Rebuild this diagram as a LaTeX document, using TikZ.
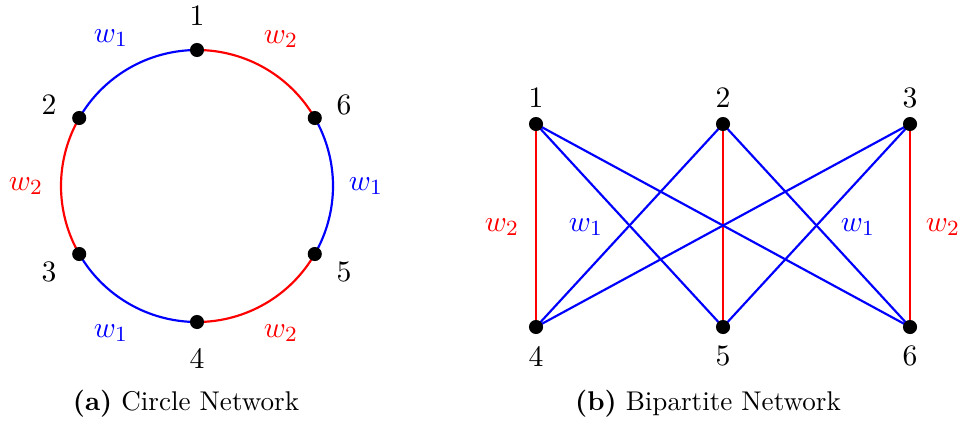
\documentclass[tikz,border=0pt]{standalone}
\usetikzlibrary{calc,backgrounds}
\definecolor{wblue}{RGB}{0,0,255}
\definecolor{wred}{RGB}{255,0,0}
\begin{document}
\begin{tikzpicture}[x=0.369pt,y=0.369pt,
  vtx/.style={circle,fill=black,inner sep=0pt,minimum size=5.2pt},
  lbl/.style={inner sep=0pt,font=\fontsize{10.95}{13}\selectfont},
  bl/.style={wblue,line width=0.8pt},
  rd/.style={wred,line width=0.8pt},
  wb/.style={lbl,text=wblue},
  wr/.style={lbl,text=wred},
  captext/.style={inner sep=0pt,font=\normalsize}]
\useasboundingbox (0,0) rectangle (963,-421);
% ---- circle network
\coordinate (c) at (197,-186);
\foreach \n/\a in {1/90,2/150,3/210,4/270,5/330,6/30}
  \node[vtx] (a\n) at ($(c)+(\a:136)$) {};
\begin{scope}[on background layer]
\draw[bl] (a1.center) arc[start angle=90,end angle=150,radius=136];
\draw[rd] (a2.center) arc[start angle=150,end angle=210,radius=136];
\draw[bl] (a3.center) arc[start angle=210,end angle=270,radius=136];
\draw[rd] (a4.center) arc[start angle=270,end angle=330,radius=136];
\draw[bl] (a5.center) arc[start angle=330,end angle=390,radius=136];
\draw[rd] (a6.center) arc[start angle=30,end angle=90,radius=136];
\end{scope}
\node[lbl] (la1) at (197,-16) {1};
\node[lbl] (la2) at (49,-105) {2};
\node[lbl] (la6) at (344,-105) {6};
\node[lbl] (la3) at (49,-272) {3};
\node[lbl] (la5) at (344,-272) {5};
\node[lbl] (la4) at (197,-358) {4};
\node[wb] (wa1) at (111,-38) {$w_1$};
\node[wr] (wa2) at (281,-39) {$w_2$};
\node[wr] (wa3) at (26,-186) {$w_2$};
\node[wb] (wa4) at (366,-186) {$w_1$};
\node[wb] (wa5) at (111,-333) {$w_1$};
\node[wr] (wa6) at (281,-333) {$w_2$};
\node[captext] (capa) at (186,-404) {\textbf{(a)} Circle Network};
% ---- bipartite network
\node[vtx] (b1) at (536,-124) {};
\node[vtx] (b2) at (723,-124) {};
\node[vtx] (b3) at (910,-124) {};
\node[vtx] (b4) at (536,-327) {};
\node[vtx] (b5) at (723,-327) {};
\node[vtx] (b6) at (910,-327) {};
\begin{scope}[on background layer]
\draw[rd] (b1.center) -- (b4.center);
\draw[rd] (b2.center) -- (b5.center);
\draw[rd] (b3.center) -- (b6.center);
\draw[bl] (b1.center) -- (b5.center);
\draw[bl] (b1.center) -- (b6.center);
\draw[bl] (b2.center) -- (b4.center);
\draw[bl] (b2.center) -- (b6.center);
\draw[bl] (b3.center) -- (b4.center);
\draw[bl] (b3.center) -- (b5.center);
\end{scope}
\node[lbl] (lb1) at (536,-98) {1};
\node[lbl] (lb2) at (723,-98) {2};
\node[lbl] (lb3) at (910,-98) {3};
\node[lbl] (lb4) at (536,-356) {4};
\node[lbl] (lb5) at (723,-356) {5};
\node[lbl] (lb6) at (910,-356) {6};
\node[wr] (wb1) at (502,-227) {$w_2$};
\node[wb] (wb2) at (586,-227) {$w_1$};
\node[wb] (wb3) at (858,-227) {$w_1$};
\node[wr] (wb4) at (943,-227) {$w_2$};
\node[captext] (capb) at (708,-404) {\textbf{(b)} Bipartite Network};
\end{tikzpicture}
\end{document}
